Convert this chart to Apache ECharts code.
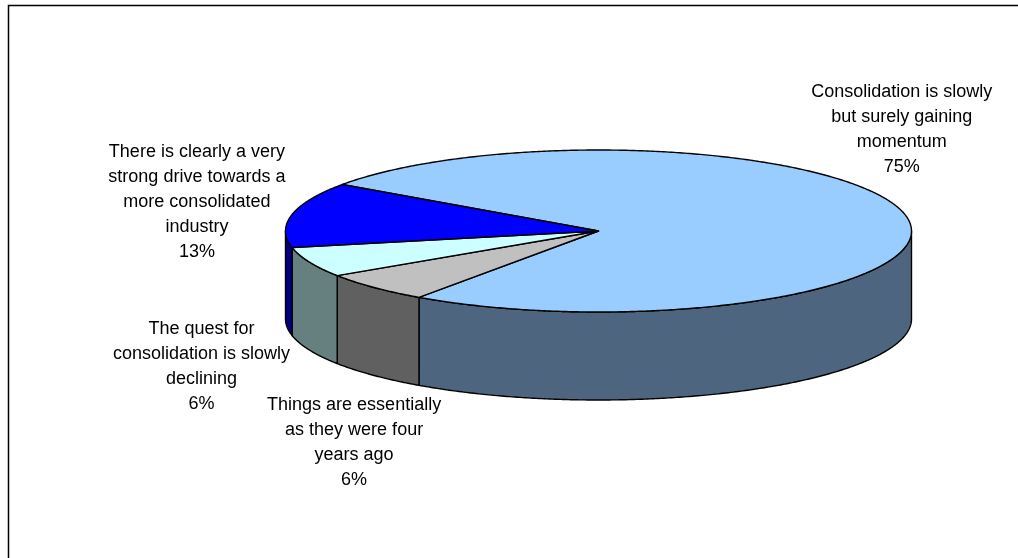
<!DOCTYPE html>
<html>
<head>
<meta charset="utf-8">
<script src="https://cdn.jsdelivr.net/npm/echarts@6/dist/echarts.min.js"></script>
<style>
  html, body { margin: 0; padding: 0; background: #fff; }
  #chart { width: 1018px; height: 558px; }
</style>
</head>
<body>
<div id="chart"></div>
<script>
// Survey answers (label text wrapped as shown) and their shares in percent
const categories = [
  'Consolidation is slowly\nbut surely gaining\nmomentum',
  'Things are essentially\nas they were four\nyears ago',
  'The quest for\nconsolidation is slowly\ndeclining',
  'There is clearly a very\nstrong drive towards a\nmore consolidated\nindustry'
];
const shares = [75, 6, 6, 13];

// Face colours: top surface and the darker cylinder wall
const topColors = ['#99CCFF', '#C0C0C0', '#CCFFFF', '#0000FF'];
const sideColors = ['#4E6580', '#606060', '#668080', '#000080'];

// Tilted-disc layout (ellipse centre, radii, wall height, first slice angle)
const pie = { cx: 598.5, cy: 231, rx: 313, ry: 81, depth: 88, startAngle: 215 };
// Label block offsets from the mid-point of each slice's rim
const labelOffsets = [[-5, -87], [-20, 155], [-108, 104], [-95, -13]];

const total = shares.reduce((a, b) => a + b, 0);
let acc = 0;
const sliceData = shares.map((v, i) => {
  const a0 = pie.startAngle + acc / total * 360;
  acc += v;
  const a1 = pie.startAngle + acc / total * 360;
  return { name: categories[i], value: [a0, a1, v] };
});

function pt(deg, dy) {
  const r = deg * Math.PI / 180;
  return [pie.cx + pie.rx * Math.cos(r), pie.cy + pie.ry * Math.sin(r) + (dy || 0)];
}
function arc(a0, a1, dy) {
  const pts = [];
  const n = Math.max(2, Math.ceil(Math.abs(a1 - a0) / 0.5));
  for (let k = 0; k <= n; k++) pts.push(pt(a0 + (a1 - a0) * k / n, dy));
  return pts;
}
// Parts of [a0, a1] that lie on the front half of the disc (0..180 deg, any turn)
function frontParts(a0, a1) {
  const parts = [];
  for (let k = -1; k <= 3; k++) {
    const s = Math.max(a0, k * 360), e = Math.min(a1, k * 360 + 180);
    if (e > s) parts.push([s, e]);
  }
  return parts;
}

const edge = { stroke: '#000', lineWidth: 1.4, lineJoin: 'round' };
const font = '18px "Liberation Sans", Arial, sans-serif';

const chart = echarts.init(document.getElementById('chart'), null, { renderer: 'canvas' });
chart.setOption({
  animation: false,
  backgroundColor: '#fff',
  graphic: [{
    type: 'rect', z: 0, silent: true,
    shape: { x: 8.5, y: 5.5, width: 1100, height: 600 },
    style: { fill: 'none', stroke: '#000', lineWidth: 1.5 }
  }],
  series: [
    {
      // cylinder walls
      type: 'custom', coordinateSystem: 'none', z: 2, silent: true,
      data: sliceData,
      renderItem: function (params, api) {
        const i = params.dataIndex;
        const a0 = api.value(0), a1 = api.value(1);
        const children = frontParts(a0, a1).map(([s, e]) => ({
          type: 'polygon',
          shape: { points: arc(s, e, 0).concat(arc(e, s, pie.depth)) },
          style: Object.assign({ fill: sideColors[i] }, edge)
        }));
        return { type: 'group', children: children };
      }
    },
    {
      // top faces and labels
      type: 'custom', coordinateSystem: 'none', z: 3, silent: true,
      data: sliceData,
      renderItem: function (params, api) {
        const i = params.dataIndex;
        const a0 = api.value(0), a1 = api.value(1), v = api.value(2);
        const mid = pt((a0 + a1) / 2, 0);
        const off = labelOffsets[i];
        return {
          type: 'group',
          children: [
            {
              type: 'polygon',
              shape: { points: [[pie.cx, pie.cy]].concat(arc(a0, a1, 0)) },
              style: Object.assign({ fill: topColors[i] }, edge)
            },
            {
              type: 'text',
              x: mid[0] + off[0], y: mid[1] + off[1],
              style: {
                text: categories[i] + '\n' + v + '%',
                fill: '#000', font: font,
                align: 'center', verticalAlign: 'middle',
                textAlign: 'center', textVerticalAlign: 'middle',
                lineHeight: 25
              }
            }
          ]
        };
      }
    }
  ]
});
</script>
</body>
</html>
